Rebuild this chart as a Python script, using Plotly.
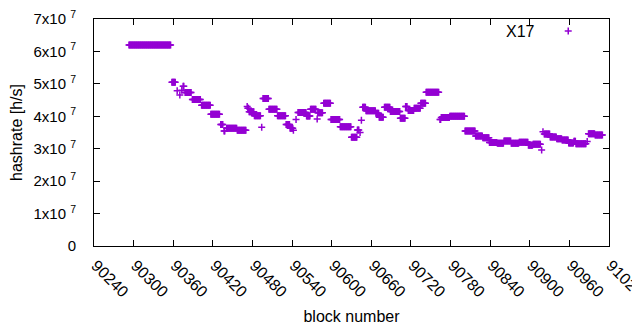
import plotly.graph_objects as go

# Runs of consecutive blocks sharing the same hashrate value
run_start = [90293, 90358, 90366, 90370, 90373, 90375, 90378, 90389, 90403, 90417,
             90432, 90437, 90441, 90457, 90472, 90473, 90475, 90483, 90494, 90496,
             90505, 90518, 90531, 90537, 90542, 90546, 90549, 90562, 90568, 90578,
             90579, 90588, 90599, 90613, 90630, 90639, 90643, 90645, 90647, 90652,
             90667, 90672, 90680, 90689, 90704, 90712, 90716, 90725, 90735, 90743,
             90764, 90766, 90779, 90802, 90818, 90829, 90839, 90851, 90861, 90872,
             90884, 90898, 90905, 90918, 90920, 90922, 90931, 90941, 90949, 90959,
             90967, 90970, 90987, 90989, 90999]
run_end = [90356, 90363, 90366, 90370, 90373, 90376, 90387, 90401, 90416, 90430,
           90435, 90438, 90456, 90470, 90472, 90474, 90482, 90492, 90494, 90504,
           90517, 90530, 90536, 90541, 90542, 90546, 90561, 90567, 90576, 90578,
           90586, 90598, 90612, 90629, 90638, 90641, 90643, 90645, 90651, 90666,
           90671, 90678, 90688, 90703, 90711, 90714, 90724, 90734, 90742, 90762,
           90765, 90778, 90801, 90817, 90828, 90838, 90850, 90860, 90871, 90883,
           90897, 90904, 90916, 90918, 90920, 90930, 90940, 90948, 90958, 90966,
           90969, 90985, 90987, 90998, 91010]
run_value = [6.20e7, 5.05e7, 4.79e7, 4.66e7, 4.80e7, 4.93e7, 4.73e7, 4.52e7, 4.34e7, 4.06e7,
             3.75e7, 3.55e7, 3.63e7, 3.57e7, 4.30e7, 4.25e7, 4.14e7, 4.02e7, 3.66e7, 4.55e7,
             4.22e7, 4.02e7, 3.75e7, 3.63e7, 3.57e7, 3.90e7, 4.12e7, 4.01e7, 4.22e7, 3.92e7,
             4.11e7, 4.40e7, 3.90e7, 3.68e7, 3.35e7, 3.58e7, 3.50e7, 3.88e7, 4.28e7, 4.17e7,
             4.09e7, 3.97e7, 4.28e7, 4.15e7, 3.94e7, 4.30e7, 4.18e7, 4.25e7, 4.40e7, 4.74e7,
             3.90e7, 3.96e7, 4.00e7, 3.55e7, 3.39e7, 3.34e7, 3.19e7, 3.17e7, 3.24e7, 3.17e7,
             3.20e7, 3.11e7, 3.14e7, 2.96e7, 3.52e7, 3.45e7, 3.36e7, 3.31e7, 3.27e7, 3.18e7,
             3.23e7, 3.15e7, 3.22e7, 3.46e7, 3.42e7]

x_ticks = [90240, 90300, 90360, 90420, 90480, 90540, 90600, 90660, 90720, 90780,
           90840, 90900, 90960, 91020]
y_ticks = [0, 1e7, 2e7, 3e7, 4e7, 5e7, 6e7, 7e7]
y_ticktext = ["0"] + ["%dx10 <sup>7</sup>" % i for i in range(1, 8)]

blocks = []
hashrate = []
for s, e, v in zip(run_start, run_end, run_value):
    for b in range(s, e + 1):
        blocks.append(b)
        hashrate.append(v)

COLOR = "#9400D3"
FONT = "Liberation Sans"
FS = 16
TXT = "#000000"

fig = go.Figure()
fig.add_trace(go.Scatter(
    x=blocks, y=hashrate, mode="markers", name="",
    marker=dict(symbol="cross-thin", size=5, color=COLOR,
                line=dict(width=1.5, color=COLOR)),
    showlegend=True,
))

fig.update_xaxes(
    range=[90240, 91020], tickmode="array", tickvals=x_ticks,
    ticktext=[str(t) for t in x_ticks],
    tickangle=45, ticklabelstandoff=3, ticklabelshift=2, ticklabeloverflow="allow",
    showline=True, linecolor="#000000", linewidth=1, mirror="ticks",
    ticks="inside", ticklen=6, tickwidth=1, tickcolor="#000000",
    showgrid=False, zeroline=False,
    tickfont=dict(family=FONT, size=16, color=TXT),
    title=dict(text="block number", font=dict(family=FONT, size=FS, color=TXT), standoff=11),
)
fig.update_yaxes(
    range=[0, 7e7], tickmode="array", tickvals=y_ticks, ticktext=y_ticktext,
    ticklabelstandoff=14, ticklabeloverflow="allow",
    showline=True, linecolor="#000000", linewidth=1, mirror="ticks",
    ticks="inside", ticklen=6, tickwidth=1, tickcolor="#000000",
    showgrid=False, zeroline=False,
    tickfont=dict(family=FONT, size=15, color=TXT),
    title=dict(text="hashrate [h/s]", font=dict(family=FONT, size=FS, color=TXT), standoff=10),
)

fig.add_annotation(
    x=0.86, y=0.947, xref="paper", yref="paper", text="X17", showarrow=False,
    xanchor="right", yanchor="middle", font=dict(family=FONT, size=FS, color=TXT),
)

# page body has an 8px default margin; size and margins compensate for it
fig.update_layout(
    width=632, height=322,
    margin=dict(l=86, r=31, t=11, b=84, autoexpand=False),
    paper_bgcolor="white", plot_bgcolor="white",
    font=dict(family=FONT, size=FS, color=TXT),
    legend=dict(x=0.882, y=0.947, xanchor="left", yanchor="middle",
                bgcolor="rgba(0,0,0,0)", font=dict(size=FS), itemwidth=30),
)

fig.write_html("out.html")
